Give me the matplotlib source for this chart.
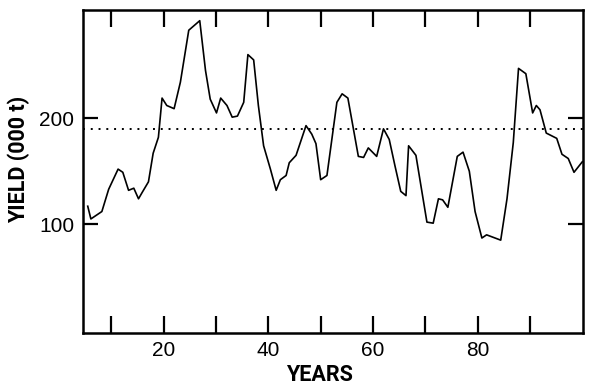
import matplotlib
matplotlib.use("Agg")
import matplotlib.pyplot as plt

# Vertices of the yield curve (year, thousand tonnes)
years = [5.5, 6.1, 8.2, 9.5, 11.3, 12.2, 13.3, 14.3, 15.2, 15.9, 17.1, 18.0,
         19.0, 19.7, 20.6, 22.0, 23.2, 24.8, 26.9, 28.0, 28.9, 30.1, 30.9,
         32.1, 33.1, 34.1, 35.3, 36.1, 37.2, 38.1, 39.1, 40.4, 41.5, 42.3,
         43.4, 44.0, 45.3, 47.2, 48.3, 49.1, 50.0, 51.2, 53.1, 54.1, 55.2,
         57.2, 58.2, 59.1, 60.7, 62.0, 63.1, 64.2, 65.3, 66.3, 66.8, 68.2,
         70.3, 71.5, 72.5, 73.3, 74.3, 76.1, 77.2, 78.4, 79.5, 80.8, 81.7,
         84.4, 85.6, 86.8, 87.8, 89.2, 90.5, 91.2, 91.9, 93.1, 95.1, 96.1,
         97.3, 98.4, 100.0]
yield_kt = [117, 105, 112, 133, 152, 149, 132, 134, 124, 130, 140, 167,
            182, 219, 212, 209, 234, 283, 292, 245, 218, 205, 219,
            212, 201, 202, 215, 260, 255, 212, 174, 152, 132, 142,
            146, 158, 165, 193, 185, 176, 142, 146, 215, 223, 219,
            164, 163, 172, 164, 190, 180, 155, 131, 127, 174, 165,
            102, 101, 124, 123, 116, 164, 168, 150, 112, 87, 90,
            85, 124, 177, 247, 242, 205, 212, 208, 186, 181, 166,
            162, 149, 159]
mean_yield = 190

x_major = [20, 40, 60, 80]
x_minor = [10, 30, 50, 70, 90]
y_ticks = [100, 200]

fig = plt.figure(figsize=(6, 3.88), dpi=100)
ax = fig.add_axes([0.1375, 0.142, 0.834, 0.832])

ax.plot(years, yield_kt, color="black", linewidth=1.2)
ax.axhline(mean_yield, color="black", linewidth=1.4, linestyle=(0, (1, 3)))

ax.set_xlim(4.5, 100.1)
ax.set_ylim(-2.5, 302)

ax.set_xticks(x_major)
ax.set_xticks(x_minor, minor=True)
ax.set_yticks(y_ticks)

for side in ax.spines.values():
    side.set_linewidth(1.8)

ax.tick_params(axis="both", which="both", direction="in", top=True, right=True,
               length=12, width=1.6, labelsize=15, pad=6)
ax.tick_params(axis="y", length=11)

fam = ["Roboto", "DejaVu Sans"]
for lab in ax.get_xticklabels() + ax.get_yticklabels():
    lab.set_family(["Liberation Sans", "DejaVu Sans"])

ax.set_xlabel("YEARS", fontsize=15.5, fontweight="bold", family=fam)
ax.set_ylabel("YIELD (000 t)", fontsize=15.5, fontweight="bold", family=fam)
ax.xaxis.set_label_coords(0.473, -0.097)
ax.yaxis.set_label_coords(-0.104, 0.536)

fig.savefig("out.png", dpi=100)
